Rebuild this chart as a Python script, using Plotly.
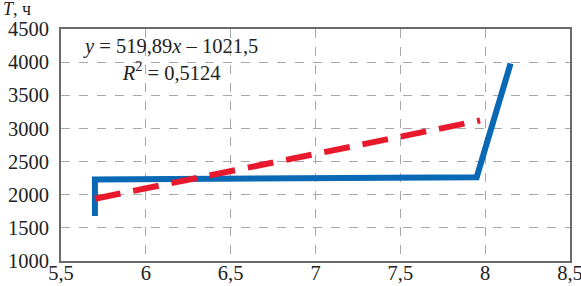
import plotly.graph_objects as go

# Data
x_obs = [5.7, 5.7, 7.95, 8.15]
t_obs = [1680, 2230, 2265, 3980]
x_trend = [5.7, 7.97]
t_trend = [1940, 3120]

x_ticks = [5.5, 6, 6.5, 7, 7.5, 8, 8.5]
x_tick_labels = ["5,5", "6", "6,5", "7", "7,5", "8", "8,5"]
y_ticks = [1000, 1500, 2000, 2500, 3000, 3500, 4000, 4500]
y_tick_labels = ["1000", "1500", "2000", "2500", "3000", "3500", "4000", "4500"]

FONT = "Liberation Serif"
FS = 20.5

fig = go.Figure()
fig.add_trace(go.Scatter(x=x_obs, y=t_obs, mode="lines",
                         line=dict(color="#0a69b4", width=6), showlegend=False))
fig.add_trace(go.Scatter(x=x_trend, y=t_trend, mode="lines",
                         line=dict(color="#e8192c", width=6, dash="26px,13px"),
                         showlegend=False))

axis_common = dict(showline=True, linecolor="#6a6a6a", linewidth=2, mirror=True,
                   showgrid=True, gridcolor="#a8a8a8", gridwidth=1, griddash="dash",
                   zeroline=False, ticks="", automargin=False, ticklabeloverflow="allow",
                   tickfont=dict(family=FONT, size=FS, color="#222"))

fig.update_xaxes(range=[5.5, 8.5], tickvals=x_ticks, ticktext=x_tick_labels,
                 ticklabelstandoff=-8, **axis_common)
fig.update_yaxes(range=[1000, 4500], tickvals=y_ticks, ticktext=y_tick_labels,
                 ticklabelstandoff=6, **axis_common)

fig.add_annotation(xref="paper", yref="paper", x=0.215, y=0.982, xanchor="center", yanchor="top",
                   text="<i>y</i> = 519,89<i>x</i> – 1021,5<br><i>R</i><sup>2</sup> = 0,5124",
                   showarrow=False, align="center",
                   font=dict(family=FONT, size=FS, color="#222"))
fig.add_annotation(xref="paper", yref="paper", x=-0.118, y=1.14, xanchor="left", yanchor="top",
                   text="<i>T</i>, ч", showarrow=False,
                   font=dict(family=FONT, size=18, color="#222"))

fig.update_layout(width=581, height=286, margin=dict(l=61, r=11, t=29, b=25),
                  plot_bgcolor="white", paper_bgcolor="white",
                  font=dict(family=FONT, size=FS))

fig.write_html("out.html", config={"displayModeBar": False},
               post_script="document.body.style.margin='0';")
